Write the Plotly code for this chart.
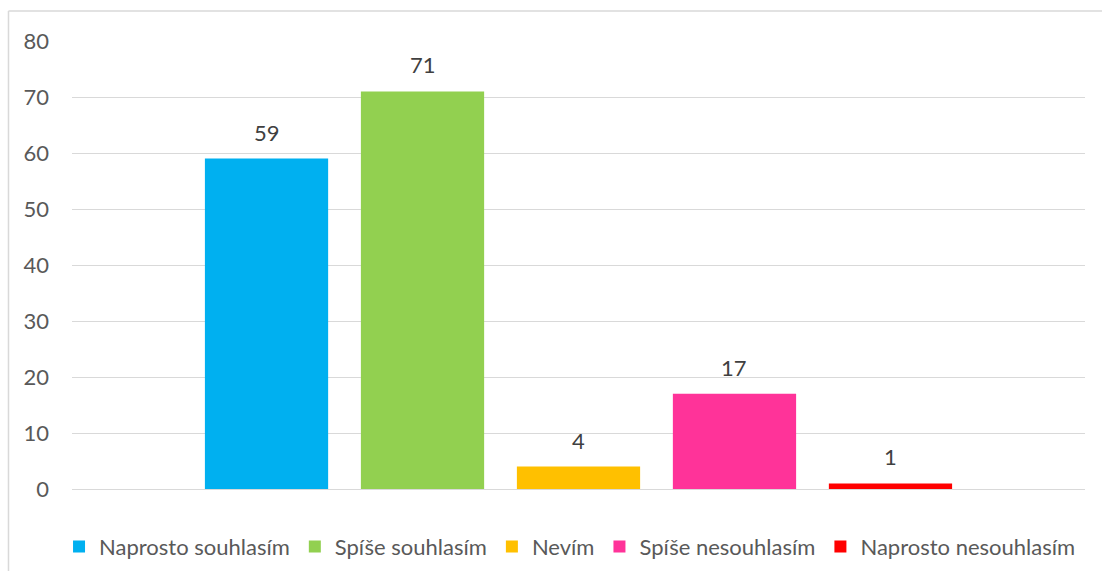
import plotly.graph_objects as go

categories = ["Naprosto souhlasím", "Spíše souhlasím", "Nevím", "Spíše nesouhlasím", "Naprosto nesouhlasím"]
values = [59, 71, 4, 17, 1]
colors = ["#00B0F0", "#92D050", "#FFC000", "#FF3399", "#FF0000"]
y_ticks = [0, 10, 20, 30, 40, 50, 60, 70, 80]

FONT = "Lato, 'Open Sans', sans-serif"

fig = go.Figure()
for name, v, c in zip(categories, values, colors):
    fig.add_trace(go.Bar(
        x=[name], y=[v], name=name, marker=dict(color=c, line=dict(width=0)),
        hoverinfo="name+y",
    ))
    fig.add_annotation(
        x=name, y=v, text=str(v), showarrow=False, yanchor="bottom", yshift=11,
        font=dict(size=22, color="#404040", family=FONT),
    )

n = len(categories)
half = 3.247
fig.update_layout(
    width=1102, height=571,
    margin=dict(l=72, r=17, t=41, b=82, autoexpand=False),
    paper_bgcolor="white", plot_bgcolor="white",
    barmode="overlay", bargap=0.21,
    font=dict(family=FONT, size=22, color="#595959"),
    showlegend=True,
    legend=dict(orientation="h", x=-0.0128, xanchor="left", y=-0.129, yanchor="middle",
                font=dict(size=22, color="#595959", family=FONT),
                traceorder="normal", itemclick=False, itemdoubleclick=False),
    xaxis=dict(showticklabels=False, showgrid=False, zeroline=False, showline=False,
               range=[(n - 1) / 2 - half, (n - 1) / 2 + half], fixedrange=True),
    yaxis=dict(range=[0, 80], tickvals=y_ticks, showgrid=True, gridcolor="#D9D9D9", gridwidth=1,
               zeroline=True, zerolinecolor="#D9D9D9", zerolinewidth=1, showline=False,
               ticks="", ticklabelstandoff=22, tickfont=dict(size=22, color="#595959"),
               fixedrange=True),
    shapes=[
        dict(type="line", xref="paper", yref="paper", x0=-0.0627, x1=1.1, y0=1.067, y1=1.067,
             line=dict(color="#D9D9D9", width=1.5)),
        dict(type="line", xref="paper", yref="paper", x0=-0.0627, x1=-0.0627, y0=1.067, y1=-0.3,
             line=dict(color="#D9D9D9", width=1.5)),
    ],
)

fig.write_html("out.html", config={"displayModeBar": False},
               post_script="document.body.style.margin='0';")
